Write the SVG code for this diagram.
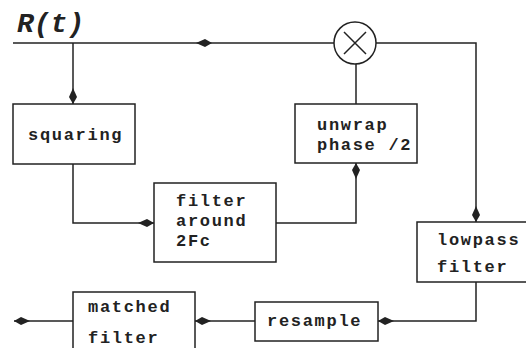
<svg xmlns="http://www.w3.org/2000/svg" xmlns:xlink="http://www.w3.org/1999/xlink" width="526" height="348" viewBox="0 0 526 348">
<style>
.box{fill:#fff;stroke:#222;stroke-width:1.5}
.ln{fill:none;stroke:#222;stroke-width:1.5}
.t{font-family:"Liberation Mono","Courier New",monospace;font-weight:bold;font-size:17px;fill:#222;letter-spacing:1.7px}
.title{font-family:"Liberation Mono","Courier New",monospace;font-weight:bold;font-style:italic;font-size:28px;fill:#222}
</style>
<defs>
<path id="ah" d="M0,0 L-7,-4 L-16,0 L-7,4 Z" fill="#222"/>
</defs>
<rect width="526" height="348" fill="#fff"/>
<text class="title" x="17" y="32">R(t)</text>
<g id="connectors">
<path class="ln" d="M13,43 H334"/>
<path class="ln" d="M73,43 V104"/>
<path class="ln" d="M73,164 V223 H154"/>
<path class="ln" d="M276,223 H356 V163"/>
<path class="ln" d="M356,104 V64"/>
<path class="ln" d="M376,43 H476 V222"/>
<path class="ln" d="M476,282 V321 H378"/>
<path class="ln" d="M255,321 H195"/>
<path class="ln" d="M73,321 H14"/>
<use xlink:href="#ah" transform="translate(212,43)"/>
<use xlink:href="#ah" transform="translate(73,104) rotate(90)"/>
<use xlink:href="#ah" transform="translate(154,223)"/>
<use xlink:href="#ah" transform="translate(356,163) rotate(-90)"/>
<use xlink:href="#ah" transform="translate(476,222) rotate(90)"/>
<use xlink:href="#ah" transform="translate(378,321) rotate(180)"/>
<use xlink:href="#ah" transform="translate(195,321) rotate(180)"/>
<use xlink:href="#ah" transform="translate(14,321) rotate(180)"/>
</g>
<g id="mixer">
<circle cx="355" cy="43" r="21" class="box"/>
<path class="ln" d="M344,32 L366,54 M366,32 L344,54"/>
</g>
<g id="squaring">
<rect class="box" x="13" y="104" width="122" height="60"/>
<text class="t" x="28" y="140">squaring</text>
</g>
<g id="unwrap">
<rect class="box" x="295" y="104" width="122" height="59"/>
<text class="t" x="317" y="130">unwrap</text>
<text class="t" x="317" y="150">phase /2</text>
</g>
<g id="filter2fc">
<rect class="box" x="154" y="183" width="122" height="79"/>
<text class="t" x="176" y="206">filter</text>
<text class="t" x="176" y="226">around</text>
<text class="t" x="176" y="246">2Fc</text>
</g>
<g id="lowpass">
<rect class="box" x="417" y="222" width="115" height="60"/>
<text class="t" x="437" y="245">lowpass</text>
<text class="t" x="437" y="272">filter</text>
</g>
<g id="resample">
<rect class="box" x="255" y="302" width="123" height="39"/>
<text class="t" x="267" y="326">resample</text>
</g>
<g id="matched">
<rect class="box" x="73" y="292" width="122" height="62"/>
<text class="t" x="88" y="312">matched</text>
<text class="t" x="88" y="343">filter</text>
</g>
</svg>
